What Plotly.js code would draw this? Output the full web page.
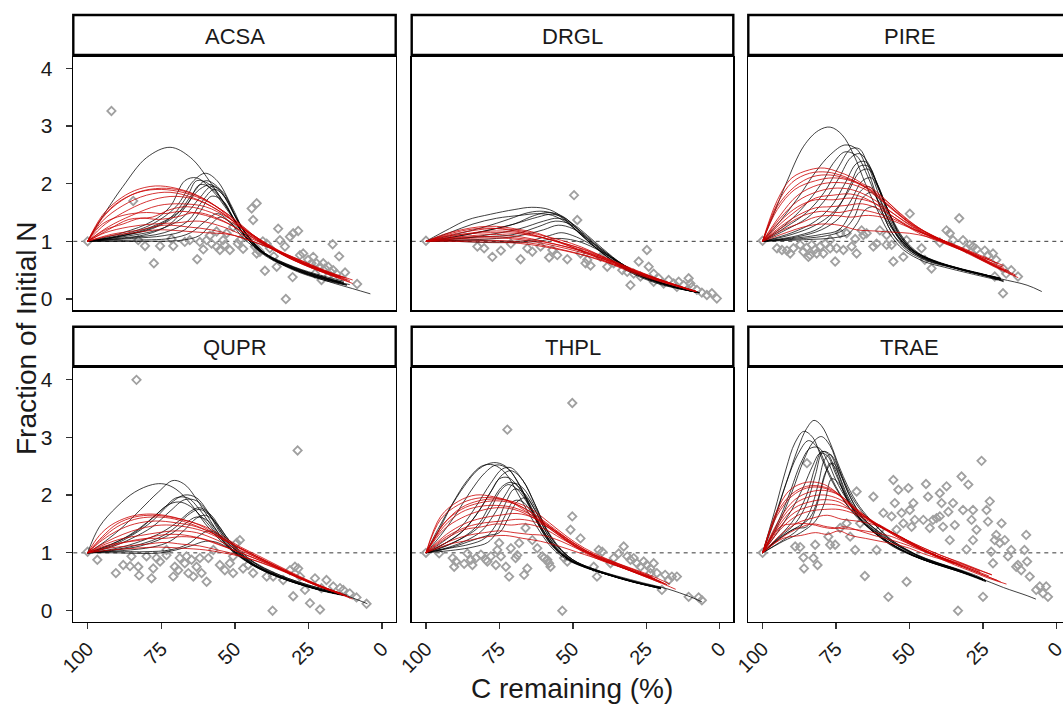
<!DOCTYPE html>
<html><head><meta charset="utf-8">
<script src="https://cdn.plot.ly/plotly-3.0.1.min.js"></script>
<style>html,body{margin:0;padding:0;overflow:hidden;background:#fff}#chart{width:1075px;height:706px}</style>
</head><body><div id="chart"></div>
<script>
const panels = ['ACSA','DRGL','PIRE','QUPR','THPL','TRAE'];
const xTicks = [100,75,50,25,0];
const yTicks = [0,1,2,3,4];
const xTitle = 'C remaining (%)';
const yTitle = 'Fraction of Initial N';

// ---- observed points [C remaining, fraction of initial N] ----
const acsaPoints = [[100,1.0],[91.9,3.26],[84.5,1.70],[82.8,1.02],[80.5,0.92],[77.5,0.62],[75.4,0.92],[71.5,1.04],[70.9,0.92],[65.3,1.02],[62.8,0.69],[60.7,0.86],[59.6,1.02],[57.9,0.96],[56.2,0.91],[55.1,0.85],[54.0,1.02],[52.8,1.14],[51.7,0.85],[50.6,1.25],[48.3,1.02],[46.0,1.08],[44.3,1.57],[42.6,1.66],[43.8,1.37],[43.2,0.91],[42.1,0.85],[41.5,0.82],[39.8,0.49],[39.2,0.96],[38.1,0.88],[35.8,0.56],[35.3,1.22],[34.7,1.02],[33.0,0.91],[32.7,0.0],[31.3,1.08],[30.4,0.38],[30.2,1.14],[28.5,1.18],[27.9,0.76],[26.8,0.79],[25.1,0.68],[23.4,0.73],[22.3,0.62],[21.1,0.56],[20.6,0.33],[19.4,0.53],[18.3,0.56],[16.8,0.95],[16.6,0.50],[15.5,0.44],[14.6,0.74],[12.6,0.46],[8.5,0.26],[18.3,0.39],[22.8,0.44],[42.6,0.79],[56.2,1.17],[61.9,0.99],[67.0,0.99],[49.0,0.96],[53.5,0.94],[58.5,1.10],[47.2,0.87],[40.5,1.0],[36.8,0.74],[24.0,0.62],[20.0,0.62],[17.5,0.47]];
const drglPoints = [[100,1.01],[80.2,0.88],[77.4,0.73],[74.5,0.84],[67.8,0.69],[65.5,0.88],[63.8,0.82],[61.0,0.91],[58.1,0.72],[55.3,0.76],[51.9,0.69],[49.6,1.80],[48.5,1.37],[47.4,0.79],[45.7,0.62],[44.0,0.58],[40.6,0.73],[38.3,0.56],[36.1,0.62],[33.2,0.50],[30.4,0.24],[29.3,0.44],[27.6,0.65],[27.0,0.39],[24.8,0.85],[24.2,0.56],[22.5,0.30],[20.8,0.36],[19.1,0.27],[17.4,0.33],[15.7,0.27],[14.0,0.30],[12.3,0.24],[10.6,0.36],[9.5,0.21],[7.8,0.16],[6.1,0.11],[4.4,0.07],[2.7,0.10],[1.0,0.01],[82.5,0.91],[71.1,0.96],[57.0,0.85],[45.1,0.68],[31.5,0.47],[22.5,0.44],[14.6,0.21],[10.0,0.27]];
const pirePoints = [[100,1.01],[95.1,0.88],[93.4,0.85],[90.6,0.79],[89.5,0.88],[87.2,0.94],[86.1,0.82],[85.0,0.89],[83.8,0.76],[83.3,0.94],[82.1,0.86],[80.4,0.91],[79.3,0.79],[78.7,0.96],[77.0,1.02],[75.3,0.65],[74.8,0.88],[73.6,1.14],[72.5,0.85],[71.4,1.14],[68.5,1.04],[68.0,0.79],[66.3,1.19],[65.7,1.11],[64.6,1.14],[62.3,0.91],[61.2,0.96],[57.8,1.11],[56.1,0.94],[55.5,0.65],[52.1,0.73],[51.0,1.02],[49.9,1.48],[45.9,0.88],[44.8,0.68],[42.5,0.53],[37.4,1.19],[36.3,1.14],[33.1,1.40],[35.2,1.02],[31.8,1.02],[29.5,0.94],[27.2,0.86],[24.4,0.84],[23.3,0.76],[21.6,0.79],[20.5,0.68],[18.2,0.53],[17.1,0.44],[15.4,0.50],[13.1,0.39],[18.2,0.10],[21.0,0.39],[28.4,0.91],[30.6,0.88],[81.6,0.79],[84.4,0.73],[91.7,0.84],[77.0,0.88],[69.7,0.91],[60.1,1.19],[57.8,0.94],[39.7,0.98]];
const quprPoints = [[100,1.02],[96.7,0.88],[90.4,0.65],[87.9,0.79],[85.6,0.77],[85.1,0.94],[83.4,3.99],[82.8,0.76],[82.5,0.61],[80.0,0.94],[78.3,0.56],[77.7,0.73],[76.6,0.91],[75.4,0.85],[73.2,0.96],[70.9,0.59],[70.4,0.76],[69.2,0.70],[68.7,0.91],[67.0,0.82],[65.8,0.65],[64.7,0.88],[64.1,0.59],[63.0,0.76],[61.9,0.91],[61.3,0.65],[59.6,0.50],[59.0,0.91],[57.3,1.05],[55.1,0.79],[53.4,0.70],[51.7,0.82],[50.6,0.65],[49.4,1.17],[48.3,1.22],[47.2,0.73],[45.5,0.79],[43.8,0.65],[39.2,0.59],[37.2,0.0],[33.6,0.53],[31.3,0.70],[30.2,0.25],[29.6,0.76],[28.7,2.77],[28.5,0.73],[26.2,0.36],[24.5,0.13],[22.8,0.56],[21.1,0.02],[18.9,0.53],[16.6,0.42],[14.3,0.39],[11.0,0.30],[8.7,0.23],[5.3,0.12],[13.2,0.36],[20.6,0.39],[27.9,0.59],[37.0,0.59],[50.6,0.94],[66.4,0.94],[73.2,1.05]];
const thplPoints = [[100,1.0],[95.5,0.99],[90.9,0.91],[90.4,0.76],[89.8,0.85],[87.0,0.81],[85.9,0.99],[84.7,0.88],[84.2,0.79],[83.0,0.91],[81.3,0.97],[79.6,0.88],[77.9,0.94],[76.2,0.79],[75.7,1.05],[75.1,1.17],[74.5,0.94],[72.8,0.76],[72.3,3.13],[71.7,0.59],[71.1,1.08],[69.5,0.91],[68.9,0.96],[68.3,1.17],[66.6,0.62],[66.1,1.43],[65.5,0.73],[63.8,1.22],[62.1,1.08],[60.4,0.94],[59.8,0.91],[58.1,0.82],[57.6,0.76],[53.6,0.0],[53.0,0.91],[51.9,0.85],[50.8,1.40],[50.2,1.63],[47.4,1.25],[42.9,0.76],[41.8,0.59],[41.2,1.05],[40.0,1.02],[36.1,0.91],[34.4,0.99],[32.7,1.11],[31.5,0.94],[30.4,0.88],[29.3,0.91],[28.2,0.82],[27.0,0.76],[25.9,0.85],[24.8,0.79],[23.6,0.73],[22.5,0.82],[21.4,0.65],[19.7,0.36],[18.6,0.62],[17.4,0.53],[16.3,0.59],[14.6,0.59],[10.6,0.24],[7.2,0.23],[6.1,0.18],[50.2,3.59],[79.1,0.85],[58.7,0.88],[37.2,0.82],[23.6,0.65]];
const traePoints = [[100,1.0],[88.9,1.11],[87.2,1.10],[86.1,0.92],[85.9,0.73],[84.9,2.55],[82.7,0.91],[82.1,1.14],[81.3,0.79],[77.6,1.28],[77.0,1.14],[75.3,1.14],[73.6,1.43],[71.4,1.51],[70.2,1.28],[68.5,1.05],[68.0,2.06],[66.8,1.51],[65.2,0.60],[62.3,1.97],[61.2,1.05],[60.1,1.40],[58.9,1.69],[57.2,0.24],[56.1,1.63],[55.5,2.26],[55.0,1.86],[54.4,1.40],[53.8,2.09],[52.7,1.69],[52.1,1.51],[51.0,0.50],[50.4,2.12],[49.9,1.74],[49.3,1.45],[48.2,1.57],[45.3,1.57],[44.4,2.19],[43.7,1.97],[43.1,1.43],[40.8,1.60],[39.7,2.03],[39.1,1.86],[38.6,1.45],[37.4,2.15],[36.8,1.71],[36.3,1.22],[35.2,1.86],[34.6,1.48],[33.5,0.0],[32.3,2.32],[31.8,1.74],[30.6,1.06],[30.0,2.18],[28.9,1.57],[28.4,1.22],[27.2,1.40],[25.5,2.59],[25.0,0.24],[23.8,1.74],[23.3,1.54],[22.7,1.89],[22.2,1.02],[21.0,1.22],[20.5,1.31],[19.3,1.17],[18.7,1.51],[17.6,1.22],[16.5,0.94],[15.4,1.05],[13.1,0.79],[12.0,0.70],[10.9,1.05],[10.3,1.31],[10.0,0.85],[9.1,0.59],[6.9,0.36],[5.7,0.42],[4.6,0.30],[2.9,0.24],[3.5,0.42],[21.6,0.82],[13.7,0.76],[28.4,1.74],[42.0,1.57],[39.7,1.63],[48.7,1.86]];

// ---- model runs, black set ----
const acsaBlack = [
[[100,1],[94,1.5],[88,1.95],[80,2.45],[72,2.63],[65,2.45],[58,2.0],[51,1.45],[45,1.0],[38,0.72],[28,0.5],[20,0.38],[14,0.28]],
[[100,1],[88,1.12],[78,1.3],[70,1.6],[64,2.05],[60,2.18],[56,2.05],[51,1.6],[46,1.1],[40,0.8],[30,0.55],[20,0.38],[13,0.28]],
[[100,1],[88,1.15],[78,1.35],[72,1.6],[67,2.05],[63,2.1],[58,1.9],[52,1.5],[46,1.05],[40,0.78],[30,0.53],[20,0.36],[13,0.26]],
[[100,1],[88,1.1],[78,1.22],[70,1.45],[64,1.85],[60,2.05],[56,1.95],[51,1.55],[46,1.1],[40,0.8],[30,0.52],[20,0.35],[12,0.25]],
[[100,1],[88,1.08],[76,1.2],[68,1.4],[62,1.75],[58,1.95],[54,1.85],[50,1.45],[45,1.05],[40,0.78],[30,0.5],[20,0.33],[12,0.24]],
[[100,1],[86,1.06],[74,1.15],[66,1.35],[61,1.7],[57,1.9],[53,1.75],[49,1.35],[44,1.0],[38,0.72],[28,0.48],[18,0.33],[11,0.25]],
[[100,1],[85,1.05],[74,1.1],[67,1.2],[62,1.5],[58,1.78],[54,1.7],[50,1.35],[45,1.0],[38,0.72],[28,0.47],[18,0.32],[12,0.24]],
[[100,1],[90,1.05],[80,1.12],[72,1.3],[66,1.65],[62,1.98],[58,1.92],[53,1.6],[47,1.12],[40,0.76],[30,0.52],[20,0.36],[13,0.27]],
[[100,1],[85,1.02],[72,1.05],[65,1.15],[60,1.35],[56,1.48],[52,1.35],[47,1.05],[40,0.78],[30,0.55],[20,0.38],[14,0.3]],
[[100,1],[80,1.0],[68,1.02],[62,1.1],[58,1.3],[55,1.42],[51,1.3],[46,1.05],[40,0.8],[30,0.56],[20,0.4],[13,0.31]],
[[100,1],[90,1.08],[80,1.2],[72,1.4],[66,1.8],[63,2.05],[59,2.0],[54,1.7],[48,1.2],[42,0.85],[32,0.58],[22,0.4],[13,0.29]],
[[100,1],[88,1.1],[76,1.3],[68,1.55],[62,1.9],[58,1.98],[54,1.8],[49,1.35],[44,1.0],[38,0.72],[28,0.48],[18,0.3],[10,0.18],[4,0.09]]
];
const drglBlack = [
[[100,1],[92,1.22],[86,1.37],[78,1.47],[70,1.55],[64,1.59],[58,1.55],[53,1.4],[48,1.15],[42,0.88],[35,0.6],[28,0.4],[20,0.25],[12,0.16],[7,0.11]],
[[100,1],[90,1.12],[80,1.25],[72,1.38],[65,1.5],[60,1.52],[55,1.45],[50,1.25],[45,1.02],[40,0.8],[33,0.55],[25,0.35],[15,0.2],[7,0.11]],
[[100,1],[90,1.08],[80,1.18],[70,1.3],[62,1.42],[57,1.47],[52,1.38],[47,1.15],[42,0.92],[35,0.65],[27,0.4],[17,0.22],[7,0.11]],
[[100,1],[88,1.05],[78,1.12],[68,1.22],[60,1.35],[55,1.4],[50,1.3],[45,1.1],[40,0.88],[33,0.6],[25,0.38],[15,0.2],[7,0.11]],
[[100,1],[88,1.1],[78,1.2],[70,1.3],[63,1.45],[58,1.5],[53,1.42],[48,1.18],[43,0.95],[36,0.68],[28,0.43],[18,0.25],[8,0.12]],
[[100,1],[90,1.05],[80,1.08],[70,1.12],[62,1.25],[56,1.35],[51,1.3],[46,1.12],[41,0.9],[34,0.63],[26,0.4],[16,0.22],[8,0.12]],
[[100,1],[85,1.02],[72,1.0],[64,1.02],[58,1.1],[54,1.15],[50,1.1],[45,0.98],[40,0.82],[33,0.6],[25,0.38],[15,0.21],[7,0.11]],
[[100,1],[88,1.02],[76,1.05],[68,1.1],[60,1.2],[55,1.28],[50,1.22],[45,1.05],[40,0.85],[33,0.6],[25,0.38],[15,0.2],[7,0.11]],
[[100,1],[90,1.0],[80,0.98],[70,0.98],[62,1.0],[56,1.05],[52,1.04],[47,0.98],[41,0.84],[34,0.62],[26,0.4],[16,0.22],[7,0.11]],
[[100,1],[92,1.15],[84,1.3],[76,1.4],[68,1.45],[62,1.48],[57,1.45],[52,1.32],[47,1.1],[42,0.88],[35,0.62],[27,0.4],[17,0.23],[7,0.11]]
];
const pireBlack = [
[[100,1],[96,1.5],[92,2.0],[86,2.65],[81,2.92],[77,2.98],[73,2.85],[69,2.5],[65,2.0],[61,1.55],[57,1.15],[52,0.85],[45,0.65],[38,0.55],[30,0.45],[20,0.33]],
[[100,1],[94,1.35],[88,1.75],[82,2.2],[77,2.5],[72,2.67],[68,2.6],[64,2.2],[60,1.6],[56,1.15],[51,0.85],[44,0.66],[36,0.55],[28,0.45],[19,0.33]],
[[100,1],[92,1.25],[85,1.5],[79,1.85],[74,2.3],[70,2.6],[67,2.6],[64,2.3],[60,1.75],[56,1.25],[51,0.9],[44,0.68],[36,0.56],[28,0.46],[19,0.36]],
[[100,1],[92,1.2],[85,1.4],[79,1.7],[74,2.1],[70,2.45],[67,2.52],[64,2.35],[60,1.85],[56,1.3],[51,0.92],[44,0.7],[36,0.57],[28,0.46],[19,0.36]],
[[100,1],[90,1.15],[82,1.35],[76,1.65],[72,2.0],[68,2.35],[65,2.38],[62,2.1],[58,1.6],[54,1.15],[49,0.85],[42,0.66],[34,0.53],[26,0.43],[19,0.34]],
[[100,1],[90,1.12],[82,1.28],[76,1.5],[71,1.85],[67,2.2],[64,2.25],[61,2.0],[57,1.5],[53,1.1],[48,0.82],[40,0.64],[32,0.52],[24,0.42],[18,0.32]],
[[100,1],[88,1.08],[80,1.2],[74,1.4],[70,1.7],[66,2.05],[63,2.1],[60,1.85],[56,1.4],[52,1.05],[47,0.8],[40,0.63],[32,0.5],[24,0.4],[18,0.31]],
[[100,1],[88,1.06],[80,1.12],[74,1.2],[70,1.5],[67,1.85],[64,1.95],[61,1.8],[57,1.35],[53,1.0],[48,0.78],[40,0.62],[32,0.5],[24,0.4],[18,0.3]],
[[100,1],[86,1.05],[78,1.1],[73,1.18],[69,1.4],[66,1.75],[63,1.85],[60,1.65],[56,1.25],[51,0.92],[45,0.72],[37,0.58],[28,0.46],[19,0.35],[10,0.24],[5,0.13]],
[[100,1],[92,1.3],[86,1.6],[80,2.0],[76,2.35],[72,2.55],[68,2.48],[64,2.1],[60,1.6],[56,1.15],[51,0.88],[44,0.67],[36,0.56],[28,0.46],[19,0.36]],
[[100,1],[88,1.1],[80,1.25],[74,1.6],[70,2.0],[67,2.3],[64,2.3],[61,2.0],[57,1.5],[53,1.08],[48,0.82],[41,0.65],[33,0.53],[25,0.43],[19,0.35]],
[[100,1],[85,1.03],[76,1.06],[71,1.12],[68,1.3],[65,1.55],[62,1.6],[59,1.45],[55,1.15],[50,0.88],[44,0.7],[36,0.57],[28,0.46],[19,0.36]]
];
const quprBlack = [
[[100,1],[96,1.45],[90,1.8],[84,2.05],[78,2.18],[74,2.19],[70,2.1],[65,1.85],[60,1.5],[55,1.22],[50,1.0],[44,0.8],[36,0.62],[28,0.47],[20,0.35],[13,0.27]],
[[100,1],[94,1.2],[88,1.45],[82,1.75],[76,2.05],[71,2.25],[67,2.18],[62,1.85],[57,1.45],[52,1.1],[47,0.9],[40,0.7],[32,0.53],[24,0.4],[14,0.28]],
[[100,1],[92,1.12],[85,1.3],[78,1.55],[72,1.85],[67,2.0],[63,1.95],[59,1.7],[55,1.38],[50,1.08],[45,0.85],[38,0.66],[30,0.5],[22,0.38],[14,0.28]],
[[100,1],[92,1.1],[85,1.25],[78,1.45],[72,1.72],[67,1.92],[63,1.9],[59,1.68],[55,1.35],[50,1.05],[45,0.84],[38,0.65],[30,0.5],[22,0.37],[13,0.27]],
[[100,1],[92,1.15],[84,1.35],[78,1.6],[73,1.82],[69,1.88],[65,1.8],[60,1.55],[55,1.25],[50,1.02],[45,0.82],[38,0.64],[30,0.49],[22,0.37],[13,0.27]],
[[100,1],[90,1.08],[82,1.2],[75,1.35],[69,1.55],[65,1.72],[62,1.78],[58,1.65],[54,1.35],[49,1.05],[44,0.82],[37,0.63],[29,0.48],[21,0.36],[13,0.27]],
[[100,1],[90,1.06],[82,1.15],[75,1.28],[70,1.45],[66,1.65],[62,1.75],[58,1.62],[54,1.32],[49,1.02],[44,0.8],[37,0.62],[29,0.47],[21,0.35],[13,0.26]],
[[100,1],[88,1.04],[78,1.1],[72,1.2],[67,1.4],[63,1.6],[60,1.65],[56,1.5],[52,1.22],[47,0.98],[42,0.78],[35,0.6],[27,0.46],[19,0.34],[12,0.26]],
[[100,1],[90,1.02],[80,1.02],[72,1.05],[66,1.15],[62,1.3],[59,1.38],[55,1.3],[51,1.1],[46,0.92],[40,0.74],[33,0.58],[25,0.44],[17,0.33],[10,0.22],[5,0.12]],
[[100,1],[90,1.0],[82,0.99],[75,1.0],[70,1.05],[65,1.12],[60,1.2],[56,1.18],[51,1.05],[46,0.9],[40,0.73],[32,0.56],[24,0.43],[16,0.32],[12,0.27]],
[[100,1],[93,1.12],[86,1.3],[80,1.52],[74,1.78],[70,1.95],[66,1.95],[62,1.75],[57,1.4],[52,1.08],[47,0.88],[40,0.68],[32,0.52],[24,0.4],[14,0.28]],
[[100,1],[90,1.05],[82,1.12],[76,1.22],[71,1.35],[67,1.5],[63,1.62],[59,1.55],[55,1.3],[50,1.02],[45,0.82],[38,0.64],[30,0.49],[22,0.37],[14,0.28]]
];
const thplBlack = [
[[100,1],[96,1.35],[92,1.75],[87,2.15],[82,2.45],[77,2.56],[73,2.5],[69,2.25],[65,1.85],[61,1.45],[57,1.15],[52,0.9],[46,0.76],[40,0.65],[30,0.5],[20,0.38]],
[[100,1],[95,1.3],[90,1.65],[85,2.05],[80,2.38],[76,2.52],[72,2.45],[68,2.15],[64,1.75],[60,1.38],[56,1.1],[51,0.88],[45,0.74],[38,0.62],[29,0.5],[20,0.39]],
[[100,1],[94,1.2],[88,1.45],[83,1.8],[78,2.2],[74,2.45],[71,2.47],[67,2.25],[63,1.85],[59,1.42],[55,1.12],[50,0.88],[44,0.74],[37,0.62],[28,0.49],[20,0.39]],
[[100,1],[94,1.15],[88,1.35],[83,1.65],[78,2.05],[74,2.35],[71,2.42],[67,2.25],[63,1.85],[59,1.4],[55,1.1],[50,0.88],[44,0.73],[37,0.61],[28,0.48],[20,0.38]],
[[100,1],[93,1.12],[87,1.28],[82,1.5],[78,1.85],[74,2.15],[71,2.22],[68,2.12],[64,1.78],[60,1.38],[56,1.08],[51,0.87],[45,0.73],[38,0.62],[29,0.49],[20,0.4]],
[[100,1],[92,1.1],[86,1.22],[81,1.38],[77,1.65],[73,2.0],[70,2.2],[67,2.12],[63,1.8],[59,1.4],[55,1.1],[50,0.88],[44,0.74],[37,0.62],[28,0.49],[20,0.4]],
[[100,1],[92,1.08],[85,1.15],[80,1.25],[76,1.5],[73,1.85],[70,2.1],[67,2.05],[63,1.75],[59,1.35],[55,1.07],[50,0.86],[44,0.72],[37,0.61],[28,0.48],[20,0.39]],
[[100,1],[90,1.05],[84,1.1],[79,1.18],[76,1.35],[73,1.65],[70,1.9],[67,1.88],[63,1.6],[59,1.25],[55,1.02],[50,0.85],[43,0.72],[35,0.6],[26,0.48],[18,0.38],[10,0.24],[6,0.15]],
[[100,1],[96,1.4],[91,1.85],[86,2.25],[81,2.5],[77,2.52],[73,2.38],[69,2.05],[65,1.68],[61,1.35],[57,1.08],[52,0.88],[46,0.75],[39,0.64],[30,0.51],[20,0.4]],
[[100,1],[93,1.18],[87,1.4],[82,1.72],[78,2.05],[75,2.28],[72,2.3],[68,2.1],[64,1.72],[60,1.35],[56,1.08],[51,0.87],[45,0.74],[38,0.62],[29,0.49],[20,0.39]],
[[100,1],[91,1.1],[84,1.22],[79,1.3],[75,1.35],[72,1.6],[69,1.88],[66,1.95],[63,1.75],[59,1.35],[55,1.05],[50,0.86],[44,0.72],[37,0.61],[28,0.48],[20,0.38]],
[[100,1],[92,1.15],[86,1.3],[82,1.45],[78,1.75],[75,2.05],[72,2.18],[69,2.1],[65,1.82],[61,1.42],[57,1.12],[52,0.9],[46,0.76],[39,0.64],[30,0.51],[21,0.4]]
];
const traeBlack = [
[[100,1],[96,1.6],[92,2.2],[88,2.8],[85,3.15],[82.5,3.29],[80,3.2],[77,2.9],[74,2.5],[71,2.15],[67,1.8],[62,1.5],[56,1.2],[50,1.02],[44,0.88],[36,0.75],[28,0.6],[25,0.53]],
[[100,1],[96,1.7],[92,2.45],[89,2.9],[86,3.1],[83,3.0],[80,2.65],[77,2.3],[73,1.95],[68,1.62],[62,1.35],[56,1.15],[50,0.98],[44,0.86],[36,0.74],[28,0.6],[25,0.53]],
[[100,1],[95,1.45],[90,2.05],[86,2.6],[83,2.9],[80,3.01],[77,2.85],[74,2.45],[70,2.0],[66,1.7],[60,1.4],[55,1.18],[49,1.0],[43,0.86],[35,0.73],[28,0.6],[24,0.52]],
[[100,1],[96,1.55],[92,2.2],[88,2.7],[84.4,2.94],[81,2.8],[78,2.45],[74,2.05],[70,1.75],[65,1.5],[59,1.28],[53,1.1],[47,0.95],[40,0.82],[33,0.7],[27,0.58],[24,0.52]],
[[100,1],[94,1.3],[89,1.6],[85,2.0],[82,2.5],[80,2.75],[78,2.72],[75,2.4],[72,2.0],[68,1.65],[63,1.4],[57,1.18],[50,0.98],[43,0.84],[35,0.72],[28,0.6],[25,0.54]],
[[100,1],[94,1.28],[89,1.5],[85,1.85],[82,2.35],[79.5,2.75],[77,2.7],[74,2.35],[71,1.98],[67,1.65],[62,1.38],[56,1.15],[49,0.97],[42,0.83],[34,0.7],[27,0.57],[24,0.51]],
[[100,1],[93,1.22],[88,1.4],[84,1.7],[81,2.2],[79,2.6],[77,2.7],[74.5,2.5],[71,2.05],[67,1.68],[62,1.4],[56,1.15],[49,0.96],[42,0.82],[34,0.69],[27,0.56],[24,0.5]],
[[100,1],[93,1.2],[87,1.35],[82,1.55],[79,1.85],[76.5,2.28],[74,2.2],[71,1.9],[67,1.6],[62,1.35],[56,1.12],[49,0.95],[42,0.82],[34,0.69],[26,0.56],[18,0.4],[10,0.26],[7,0.2]],
[[100,1],[95,1.5],[91,2.0],[87,2.55],[84,2.8],[81,2.82],[78,2.6],[75,2.25],[71,1.9],[66,1.6],[60,1.35],[54,1.15],[48,0.98],[41,0.84],[33,0.71],[27,0.6],[25,0.55]],
[[100,1],[93,1.3],[88,1.45],[84,1.6],[81,1.95],[78.5,2.4],[76,2.55],[73.5,2.35],[70,1.95],[66,1.62],[61,1.38],[55,1.15],[48,0.96],[41,0.83],[33,0.7],[27,0.58],[24,0.52]],
[[100,1],[95,1.35],[90,1.75],[86,2.15],[83,2.5],[80.5,2.72],[78,2.68],[75,2.35],[71,1.92],[67,1.6],[62,1.35],[56,1.13],[49,0.96],[42,0.83],[34,0.7],[28,0.59],[26,0.55]],
[[100,1],[94,1.25],[89,1.42],[85,1.45],[82,1.75],[79,2.3],[77,2.55],[75,2.45],[72,2.05],[68,1.68],[63,1.4],[57,1.17],[50,0.98],[43,0.84],[35,0.71],[28,0.59],[25,0.53]]
];

// ---- model runs, red set ----
const acsaRed = [
[[100,1],[95,1.45],[90,1.7],[84,1.88],[77,1.96],[70,1.92],[62,1.78],[55,1.55],[48,1.25],[42,1.02],[35,0.8],[27,0.6],[18,0.42],[10,0.27]],
[[100,1],[95,1.4],[90,1.65],[83,1.85],[75,1.92],[68,1.88],[60,1.72],[52,1.45],[45,1.15],[38,0.9],[30,0.68],[20,0.47],[12,0.33]],
[[100,1],[95,1.35],[88,1.62],[80,1.8],[72,1.85],[64,1.75],[56,1.55],[48,1.25],[41,1.0],[33,0.75],[24,0.55],[15,0.38]],
[[100,1],[94,1.3],[86,1.55],[78,1.72],[70,1.78],[62,1.7],[54,1.48],[47,1.2],[40,0.95],[32,0.72],[22,0.5],[14,0.36]],
[[100,1],[93,1.25],[85,1.45],[76,1.62],[68,1.65],[60,1.6],[52,1.4],[45,1.15],[38,0.92],[30,0.7],[20,0.48],[14,0.38]],
[[100,1],[93,1.2],[86,1.38],[78,1.42],[72,1.55],[66,1.6],[58,1.5],[50,1.3],[43,1.08],[35,0.84],[26,0.62],[16,0.42]],
[[100,1],[94,1.2],[88,1.3],[82,1.4],[76,1.38],[70,1.42],[63,1.5],[55,1.38],[47,1.15],[40,0.95],[32,0.74],[22,0.52],[14,0.38]],
[[100,1],[94,1.15],[86,1.25],[78,1.3],[70,1.32],[62,1.35],[54,1.25],[47,1.1],[40,0.95],[32,0.75],[22,0.53],[13,0.37]],
[[100,1],[92,1.1],[84,1.15],[76,1.2],[68,1.18],[60,1.15],[52,1.12],[45,1.02],[38,0.88],[30,0.72],[20,0.5],[12,0.36]],
[[100,1],[95,1.3],[88,1.45],[80,1.5],[74,1.48],[68,1.52],[60,1.45],[52,1.3],[45,1.1],[38,0.88],[28,0.65],[18,0.45],[11,0.32]],
[[100,1],[95,1.42],[89,1.7],[82,1.86],[75,1.9],[67,1.84],[59,1.68],[51,1.42],[44,1.12],[37,0.88],[28,0.65],[19,0.45],[11,0.3]],
[[100,1],[92,1.12],[82,1.2],[74,1.28],[66,1.25],[58,1.2],[50,1.1],[43,0.98],[36,0.85],[28,0.68],[18,0.47],[10,0.33]]
];
const drglRed = [
[[100,1],[94,1.12],[88,1.2],[82,1.25],[76,1.26],[70,1.22],[62,1.14],[55,1.0],[48,0.85],[40,0.68],[32,0.5],[24,0.36],[16,0.24],[8,0.13]],
[[100,1],[94,1.1],[88,1.18],[80,1.23],[72,1.2],[64,1.12],[56,1.0],[48,0.86],[40,0.7],[32,0.52],[24,0.37],[16,0.25],[8,0.13]],
[[100,1],[92,1.08],[84,1.15],[76,1.18],[68,1.15],[60,1.06],[52,0.95],[45,0.83],[37,0.66],[30,0.5],[22,0.35],[14,0.22],[8,0.13]],
[[100,1],[92,1.06],[84,1.1],[76,1.12],[68,1.08],[60,1.0],[52,0.9],[44,0.78],[36,0.63],[28,0.47],[20,0.32],[12,0.19],[8,0.13]],
[[100,1],[90,1.04],[80,1.06],[72,1.05],[64,1.0],[56,0.92],[48,0.82],[40,0.7],[32,0.55],[24,0.4],[16,0.26],[8,0.13]],
[[100,1],[90,1.02],[80,1.02],[70,1.0],[62,0.95],[54,0.86],[46,0.76],[38,0.64],[30,0.5],[22,0.36],[14,0.23],[8,0.13]],
[[100,1],[93,1.1],[86,1.17],[78,1.22],[70,1.2],[62,1.12],[54,1.02],[47,0.9],[40,0.74],[32,0.55],[24,0.38],[16,0.25],[8,0.13]],
[[100,1],[92,1.05],[84,1.08],[75,1.08],[66,1.04],[58,0.97],[50,0.88],[42,0.76],[34,0.6],[26,0.44],[18,0.29],[9,0.14]],
[[100,1],[94,1.08],[86,1.13],[78,1.15],[70,1.14],[62,1.08],[54,0.98],[46,0.86],[38,0.7],[30,0.53],[22,0.37],[14,0.23],[8,0.13]],
[[100,1],[92,1.0],[82,0.99],[72,0.98],[64,0.94],[56,0.87],[48,0.78],[40,0.66],[32,0.52],[24,0.39],[16,0.25],[9,0.14]]
];
const pireRed = [
[[100,1],[95,1.71],[90,2.1],[84,2.24],[79,2.27],[74,2.2],[70,2.12],[66,2.0],[62,1.89],[57,1.66],[51,1.38],[45,1.18],[38,1.0],[30,0.8],[22,0.58],[13,0.37]],
[[100,1],[95,1.65],[90,2.02],[84,2.18],[78,2.2],[72,2.12],[67,2.0],[62,1.84],[56,1.58],[50,1.32],[44,1.14],[37,0.98],[29,0.78],[21,0.57],[14,0.4]],
[[100,1],[95,1.55],[89,1.9],[82,2.05],[76,2.1],[70,2.05],[64,1.9],[58,1.66],[52,1.4],[46,1.2],[40,1.05],[32,0.86],[24,0.66],[17,0.48]],
[[100,1],[94,1.45],[88,1.8],[81,1.98],[75,2.02],[69,1.98],[63,1.84],[57,1.6],[51,1.35],[45,1.15],[38,1.0],[30,0.82],[22,0.62],[16,0.48]],
[[100,1],[94,1.4],[88,1.7],[82,1.85],[76,1.92],[70,1.9],[64,1.78],[58,1.58],[52,1.35],[46,1.16],[39,1.0],[31,0.83],[23,0.65],[18,0.55]],
[[100,1],[94,1.3],[88,1.55],[82,1.75],[76,1.8],[70,1.82],[64,1.72],[58,1.52],[52,1.3],[46,1.12],[39,0.98],[31,0.82],[24,0.68]],
[[100,1],[94,1.25],[88,1.45],[82,1.58],[77,1.6],[72,1.62],[66,1.65],[60,1.55],[54,1.38],[48,1.2],[42,1.08],[35,0.95],[28,0.8],[22,0.68]],
[[100,1],[93,1.2],[87,1.32],[82,1.42],[76,1.45],[70,1.42],[64,1.45],[58,1.4],[52,1.28],[46,1.15],[40,1.04],[33,0.9],[26,0.74],[20,0.62]],
[[100,1],[92,1.15],[86,1.25],[80,1.3],[74,1.28],[68,1.2],[62,1.18],[56,1.16],[50,1.14],[44,1.08],[38,0.98],[31,0.84],[24,0.7],[18,0.58]],
[[100,1],[95,1.6],[89,1.95],[83,2.12],[77,2.15],[71,2.08],[65,1.95],[59,1.75],[53,1.48],[47,1.24],[41,1.06],[34,0.9],[26,0.7],[19,0.52]],
[[100,1],[94,1.35],[88,1.6],[82,1.72],[76,1.72],[70,1.75],[64,1.7],[58,1.56],[52,1.36],[46,1.17],[40,1.02],[33,0.86],[25,0.66],[17,0.48]],
[[100,1],[93,1.25],[86,1.45],[80,1.52],[74,1.5],[68,1.55],[62,1.5],[56,1.4],[50,1.25],[44,1.1],[37,0.95],[29,0.78],[21,0.58],[14,0.42]]
];
const quprRed = [
[[100,1],[96,1.3],[92,1.48],[86,1.62],[80,1.67],[74,1.65],[68,1.58],[62,1.48],[56,1.3],[50,1.12],[45,0.98],[38,0.8],[30,0.6],[22,0.43],[14,0.28],[10,0.2]],
[[100,1],[95,1.25],[90,1.45],[84,1.58],[78,1.62],[72,1.6],[66,1.52],[60,1.4],[54,1.25],[48,1.08],[42,0.92],[34,0.72],[26,0.53],[18,0.36],[12,0.25]],
[[100,1],[95,1.22],[90,1.38],[84,1.5],[77,1.55],[70,1.52],[63,1.45],[57,1.32],[51,1.15],[45,1.0],[38,0.82],[30,0.62],[22,0.45],[14,0.3]],
[[100,1],[94,1.18],[88,1.32],[82,1.42],[75,1.48],[68,1.46],[61,1.38],[55,1.25],[49,1.1],[43,0.95],[36,0.78],[28,0.58],[20,0.41],[13,0.28]],
[[100,1],[94,1.15],[88,1.25],[82,1.3],[76,1.35],[70,1.38],[63,1.35],[56,1.22],[50,1.08],[44,0.95],[37,0.79],[29,0.6],[21,0.42],[14,0.3]],
[[100,1],[93,1.1],[86,1.2],[80,1.25],[74,1.25],[68,1.28],[62,1.25],[56,1.15],[50,1.04],[44,0.92],[37,0.77],[29,0.59],[21,0.42],[14,0.3]],
[[100,1],[93,1.08],[86,1.12],[80,1.15],[74,1.18],[68,1.15],[62,1.12],[56,1.05],[50,0.98],[44,0.88],[37,0.75],[29,0.58],[21,0.41],[14,0.29]],
[[100,1],[92,1.05],[84,1.08],[76,1.1],[68,1.08],[60,1.05],[54,1.0],[48,0.94],[42,0.85],[35,0.72],[27,0.55],[19,0.38],[12,0.26]],
[[100,1],[95,1.28],[90,1.5],[84,1.62],[78,1.65],[72,1.62],[66,1.55],[60,1.45],[54,1.28],[48,1.1],[42,0.95],[35,0.77],[27,0.57],[19,0.39],[11,0.23]],
[[100,1],[94,1.12],[88,1.18],[82,1.22],[76,1.3],[70,1.32],[64,1.28],[58,1.2],[52,1.08],[46,0.96],[39,0.82],[31,0.63],[23,0.45],[15,0.31]]
];
const thplRed = [
[[100,1],[95,1.63],[89,1.89],[83,2.0],[77,1.97],[72,1.9],[66,1.72],[60,1.5],[54,1.28],[48,1.08],[42,0.92],[35,0.78],[28,0.64],[21,0.5],[15,0.37]],
[[100,1],[95,1.58],[89,1.83],[83,1.94],[77,1.95],[71,1.88],[65,1.72],[59,1.5],[53,1.25],[47,1.06],[41,0.9],[34,0.76],[27,0.62],[20,0.48]],
[[100,1],[94,1.5],[88,1.75],[82,1.86],[76,1.9],[70,1.85],[64,1.7],[58,1.48],[52,1.25],[46,1.05],[40,0.9],[33,0.76],[26,0.62],[19,0.47]],
[[100,1],[94,1.45],[88,1.7],[82,1.8],[76,1.82],[70,1.78],[64,1.65],[58,1.45],[52,1.22],[46,1.02],[40,0.88],[33,0.74],[25,0.6],[18,0.45]],
[[100,1],[94,1.4],[88,1.6],[82,1.72],[76,1.78],[70,1.75],[64,1.62],[58,1.42],[52,1.2],[46,1.0],[40,0.86],[32,0.72],[24,0.57]],
[[100,1],[93,1.32],[87,1.5],[81,1.6],[75,1.65],[69,1.68],[63,1.6],[57,1.42],[51,1.2],[45,1.02],[38,0.87],[30,0.72],[23,0.58]],
[[100,1],[93,1.25],[87,1.4],[81,1.45],[76,1.5],[71,1.48],[66,1.5],[60,1.42],[54,1.25],[48,1.08],[42,0.94],[35,0.8],[28,0.66],[22,0.55]],
[[100,1],[92,1.2],[86,1.3],[80,1.35],[75,1.38],[70,1.35],[65,1.32],[60,1.3],[54,1.2],[48,1.06],[42,0.93],[35,0.8],[28,0.66],[20,0.5]],
[[100,1],[92,1.15],[85,1.22],[79,1.28],[73,1.3],[67,1.25],[61,1.2],[55,1.12],[49,1.02],[43,0.92],[36,0.8],[29,0.67],[22,0.54]],
[[100,1],[94,1.5],[88,1.78],[82,1.9],[76,1.93],[70,1.88],[64,1.75],[58,1.52],[52,1.28],[46,1.08],[40,0.93],[33,0.78],[26,0.64],[18,0.45]],
[[100,1],[93,1.28],[86,1.45],[80,1.52],[74,1.55],[68,1.58],[62,1.52],[56,1.38],[50,1.18],[44,1.0],[38,0.88],[31,0.75],[24,0.62],[17,0.46]]
];
const traeRed = [
[[100,1],[95,1.74],[90.6,2.09],[85,2.22],[80,2.2],[76,2.09],[72,1.9],[68,1.74],[64,1.58],[60,1.45],[55,1.33],[51,1.22],[46,1.08],[42,0.96],[36,0.82],[30,0.7],[23,0.56],[17,0.46]],
[[100,1],[95,1.7],[90,2.02],[85,2.15],[80,2.15],[75,2.05],[71,1.88],[67,1.7],[62,1.52],[57,1.38],[52,1.25],[47,1.1],[42,0.98],[36,0.85],[30,0.72],[24,0.6],[20,0.52]],
[[100,1],[94,1.6],[89,1.92],[84,2.05],[79,2.08],[74,2.0],[70,1.85],[66,1.68],[61,1.5],[56,1.35],[51,1.2],[46,1.08],[41,0.96],[35,0.84],[29,0.72],[23,0.6]],
[[100,1],[94,1.55],[89,1.85],[84,1.97],[79,2.0],[74,1.93],[70,1.8],[66,1.65],[61,1.48],[56,1.33],[51,1.18],[46,1.05],[40,0.93],[35,0.82]],
[[100,1],[94,1.5],[89,1.78],[84,1.88],[79,1.92],[74,1.88],[70,1.75],[65,1.6],[60,1.45],[55,1.3],[50,1.16],[45,1.03],[40,0.92],[35,0.82]],
[[100,1],[94,1.45],[89,1.7],[84,1.8],[79,1.84],[74,1.82],[69,1.72],[64,1.58],[59,1.45],[54,1.3],[49,1.15],[44,1.02],[38,0.9],[32,0.78],[26,0.66]],
[[100,1],[94,1.4],[89,1.62],[84,1.72],[79,1.75],[74,1.75],[69,1.68],[64,1.55],[58,1.4],[52,1.25],[46,1.1],[40,0.97],[34,0.85],[28,0.73],[22,0.62]],
[[100,1],[93,1.35],[88,1.52],[83,1.6],[78,1.65],[73,1.58],[68,1.55],[63,1.5],[57,1.38],[51,1.22],[45,1.08],[39,0.95],[33,0.84],[27,0.72],[22,0.62]],
[[100,1],[93,1.28],[88,1.42],[83,1.5],[78,1.45],[73,1.42],[68,1.4],[62,1.35],[56,1.28],[50,1.15],[44,1.02],[38,0.9],[32,0.8],[26,0.68]],
[[100,1],[94,1.45],[89,1.5],[84,1.5],[80,1.45],[76,1.42],[72,1.45],[67,1.38],[62,1.3],[56,1.22],[50,1.12],[44,1.0],[38,0.88],[32,0.76]],
[[100,1],[95,1.65],[90,1.98],[85,2.12],[80,2.13],[75,2.03],[71,1.86],[67,1.7],[62,1.52],[57,1.38],[52,1.24],[47,1.1],[42,0.98],[36,0.85],[30,0.72],[25,0.62],[19,0.5]],
[[100,1],[93,1.25],[87,1.3],[82,1.35],[78,1.32],[74,1.38],[70,1.3],[65,1.25],[60,1.2],[55,1.15],[50,1.08],[45,0.98],[40,0.9],[35,0.82]]
];

const pointsByPanel = [acsaPoints, drglPoints, pirePoints, quprPoints, thplPoints, traePoints];
const blackByPanel = [acsaBlack, drglBlack, pireBlack, quprBlack, thplBlack, traeBlack];
const redByPanel = [acsaRed, drglRed, pireRed, quprRed, thplRed, traeRed];

// ---- layout geometry (pixels) ----
const W = 1075, H = 706;
const colPx = [[73.3,395.7],[411.7,733.3],[748.3,1070]];
const rowPx = [[57.3,310],[368.3,621.7]];
const stripPx = [[15,55],[326.7,366.2]];
const FONT = 'Liberation Sans, Arial, Helvetica, sans-serif';
const TXT = '#1a1a1a';

const traces = [];
const layout = {
  width: W, height: H, margin: {l:0, r:0, t:0, b:0},
  paper_bgcolor: '#fff', plot_bgcolor: '#fff', showlegend: false,
  font: {family: FONT, color: TXT},
  shapes: [], annotations: []
};

panels.forEach((name, i) => {
  const c = i % 3, r = Math.floor(i / 3);
  const s = i === 0 ? '' : String(i + 1);
  const xa = 'x' + s, ya = 'y' + s;
  layout['xaxis' + s] = {
    domain: [colPx[c][0] / W, colPx[c][1] / W], range: [104.85, -4.6], anchor: ya,
    showline: true, mirror: true, linecolor: '#000', linewidth: 1.6,
    showgrid: false, zeroline: false,
    ticks: r === 1 ? 'outside' : '', ticklen: 6, tickwidth: 1.3, tickcolor: '#333',
    showticklabels: r === 1, tickmode: 'array', tickvals: xTicks, ticktext: xTicks.map(String),
    tickangle: -45, tickfont: {family: FONT, size: 20, color: TXT}
  };
  layout['yaxis' + s] = {
    domain: [1 - rowPx[r][1] / H, 1 - rowPx[r][0] / H], range: [-0.19, 4.19], anchor: xa,
    showline: true, mirror: true, linecolor: '#000', linewidth: 1.6,
    showgrid: false, zeroline: false,
    ticks: c === 0 ? 'outside' : '', ticklen: 6, tickwidth: 1.3, tickcolor: '#333',
    showticklabels: c === 0, tickmode: 'array', tickvals: yTicks, ticktext: yTicks.map(String),
    ticklabelstandoff: 9, tickfont: {family: FONT, size: 21, color: TXT}
  };
  // reference line
  layout.shapes.push({type: 'line', xref: xa + ' domain', yref: ya, x0: 0, x1: 1, y0: 1, y1: 1,
    line: {color: '#222', width: 0.9, dash: '4px,4px'}, layer: 'below'});
  // strip
  layout.shapes.push({type: 'rect', xref: 'paper', yref: 'paper',
    x0: colPx[c][0] / W, x1: colPx[c][1] / W, y0: 1 - stripPx[r][1] / H, y1: 1 - stripPx[r][0] / H,
    fillcolor: '#fff', line: {color: '#000', width: 2.4}});
  layout.annotations.push({text: name, xref: 'paper', yref: 'paper', showarrow: false,
    x: (colPx[c][0] + colPx[c][1]) / 2 / W, y: 1 - ((stripPx[r][0] + stripPx[r][1]) / 2 + 1.5) / H,
    xanchor: 'center', yanchor: 'middle', font: {family: FONT, size: 22, color: TXT}});

  const pts = pointsByPanel[i];
  traces.push({type: 'scatter', mode: 'markers', xaxis: xa, yaxis: ya,
    x: pts.map(p => p[0]), y: pts.map(p => p[1]),
    marker: {symbol: 'diamond-open', size: 6.4, color: '#a0a0a0', line: {width: 1.8, color: '#a0a0a0'}},
    hoverinfo: 'skip'});
  blackByPanel[i].forEach(cv => traces.push({type: 'scatter', mode: 'lines', xaxis: xa, yaxis: ya,
    x: cv.map(p => p[0]), y: cv.map(p => p[1]),
    line: {color: '#000', width: 0.75, shape: 'spline', smoothing: 1}, hoverinfo: 'skip'}));
  redByPanel[i].forEach(cv => traces.push({type: 'scatter', mode: 'lines', xaxis: xa, yaxis: ya,
    x: cv.map(p => p[0]), y: cv.map(p => p[1]),
    line: {color: '#cc0000', width: 0.8, shape: 'spline', smoothing: 1}, hoverinfo: 'skip'}));
});

layout.annotations.push({text: xTitle, xref: 'paper', yref: 'paper', showarrow: false,
  x: 572 / W, y: 1 - 688 / H, xanchor: 'center', yanchor: 'middle',
  font: {family: FONT, size: 28, color: TXT}});
layout.annotations.push({text: yTitle, xref: 'paper', yref: 'paper', showarrow: false,
  x: 26 / W, y: 1 - 339 / H, xanchor: 'center', yanchor: 'middle', textangle: -90,
  font: {family: FONT, size: 28, color: TXT}});

Plotly.newPlot('chart', traces, layout, {staticPlot: true, displayModeBar: false});
</script>
</body></html>
